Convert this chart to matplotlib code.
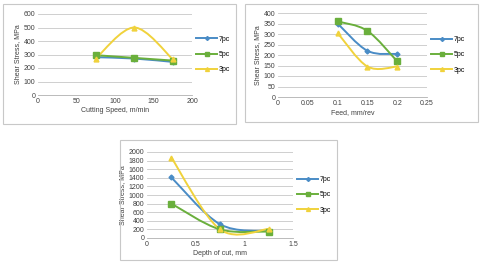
import numpy as np
import matplotlib.pyplot as plt
from matplotlib.path import Path
from matplotlib.patches import PathPatch, Rectangle
from matplotlib.lines import Line2D

# data
speed = [75, 125, 175]
speed_7pc = [280, 270, 245]
speed_5pc = [295, 275, 255]
speed_3pc = [270, 500, 265]

feed = [0.1, 0.15, 0.2]
feed_7pc = [350, 220, 205]
feed_5pc = [360, 315, 170]
feed_3pc = [305, 145, 145]

depth = [0.25, 0.75, 1.25]
depth_7pc = [1410, 320, 160]
depth_5pc = [800, 200, 150]
depth_3pc = [1870, 200, 210]

labels = ['7pc', '5pc', '3pc']
colors = ['#4a8cc6', '#6aaf3c', '#f0d23c']
markers = ['D', 's', '^']
msizes = [2.5, 4, 3.5]

plt.rcParams['font.family'] = 'Liberation Sans'
plt.rcParams['font.size'] = 5


def smooth_path(x, y):
    # excel-style smoothed line: cubic bezier segments through the points
    x = np.asarray(x, float)
    y = np.asarray(y, float)
    verts = [(x[0], y[0])]
    codes = [Path.MOVETO]
    n = len(x)
    for i in range(n - 1):
        x0, y0 = (x[i - 1], y[i - 1]) if i > 0 else (x[i], y[i])
        x3, y3 = (x[i + 2], y[i + 2]) if i + 2 < n else (x[i + 1], y[i + 1])
        c1 = (x[i] + (x[i + 1] - x0) / 6, y[i] + (y[i + 1] - y0) / 6)
        c2 = (x[i + 1] - (x3 - x[i]) / 6, y[i + 1] - (y3 - y[i]) / 6)
        verts += [c1, c2, (x[i + 1], y[i + 1])]
        codes += [Path.CURVE4] * 3
    return Path(verts, codes)


def panel(ax, x, series, xlim, xticks, xticklabels, ylim, yticks, xlabel):
    for s, c, m, ms, lab in zip(series, colors, markers, msizes, labels):
        ax.add_patch(PathPatch(smooth_path(x, s), facecolor='none', edgecolor=c, lw=1.4, zorder=3))
        ax.plot(x, s, ls='none', marker=m, color=c, ms=ms, zorder=4)
    ax.set_xlim(xlim)
    ax.set_ylim(ylim)
    ax.set_xticks(xticks)
    ax.set_xticklabels(xticklabels)
    ax.set_yticks(yticks)
    ax.yaxis.grid(True, color='#c8c8c8', lw=0.6)
    ax.set_axisbelow(True)
    for sp in ['top', 'right', 'left']:
        ax.spines[sp].set_visible(False)
    ax.spines['bottom'].set_color('#b0b0b0')
    ax.spines['bottom'].set_linewidth(0.6)
    ax.tick_params(length=0, pad=2, colors='#404040')
    ax.set_xlabel(xlabel, labelpad=1.5, color='#404040')
    ax.set_ylabel('Shear Stress, MPa', labelpad=2, color='#404040')
    handles = [Line2D([], [], color=c, marker=m, ms=ms * 0.8, lw=1.4) for c, m, ms in zip(colors, markers, msizes)]
    ax.legend(handles, labels, loc='center left', bbox_to_anchor=(1.0, 0.5), frameon=False,
              handlelength=3.0, labelspacing=1.2, handletextpad=0.3, borderaxespad=0.2)


fig = plt.figure(figsize=(4.8, 2.64), dpi=100)
W, H = 480, 264


def box(x0, y0, x1, y1):
    fig.patches.append(Rectangle((x0 / W, 1 - y1 / H), (x1 - x0) / W, (y1 - y0) / H,
                                 transform=fig.transFigure, fill=False, ec='#c8c8c8', lw=0.8))


def axes_px(x0, y0, x1, y1):
    return fig.add_axes([x0 / W, 1 - y1 / H, (x1 - x0) / W, (y1 - y0) / H])


box(3, 4, 236, 124)
ax1 = axes_px(38, 14, 192, 95)
panel(ax1, speed, [speed_7pc, speed_5pc, speed_3pc], (0, 200), [0, 50, 100, 150, 200],
      ['0', '50', '100', '150', '200'], (0, 600), range(0, 601, 100), 'Cutting Speed, m/min')

box(245, 4, 478, 122)
ax2 = axes_px(278, 13, 427, 97)
panel(ax2, feed, [feed_7pc, feed_5pc, feed_3pc], (0, 0.25), [0, 0.05, 0.1, 0.15, 0.2, 0.25],
      ['0', '0.05', '0.1', '0.15', '0.2', '0.25'], (0, 400), range(0, 401, 50), 'Feed, mm/rev')

box(120, 140, 337, 260)
ax3 = axes_px(147, 152, 293, 238)
panel(ax3, depth, [depth_7pc, depth_5pc, depth_3pc], (0, 1.5), [0, 0.5, 1, 1.5],
      ['0', '0.5', '1', '1.5'], (0, 2000), range(0, 2001, 200), 'Depth of cut, mm')

fig.savefig('out.png', dpi=100)
